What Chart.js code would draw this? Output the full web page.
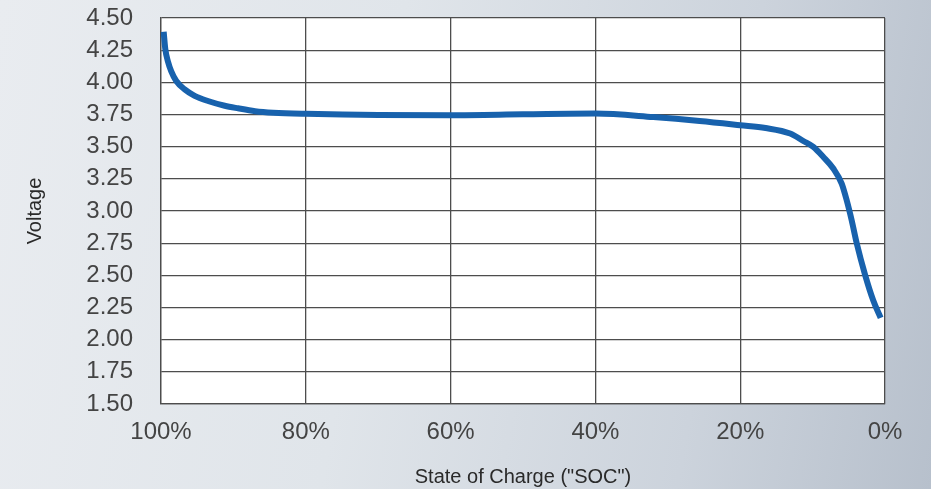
<!DOCTYPE html>
<html>
<head>
<meta charset="utf-8">
<script src="https://cdn.jsdelivr.net/npm/chart.js@4/dist/chart.umd.min.js"></script>
<style>
  html, body { margin: 0; padding: 0; width: 931px; height: 489px; overflow: hidden; }
  body { background: linear-gradient(100deg, #e9ecf0 0%, #e0e5ea 40%, #ccd3dc 75%, #b7c0cc 100%); }
  #wrap { position: absolute; left: 0; top: 0; width: 931px; height: 489px; }
</style>
</head>
<body>
<div id="wrap"><canvas id="c" width="931" height="489"></canvas></div>
<script>
// State of charge (%) and voltage
const soc = [99.63, 99.41, 99.03, 98.58, 97.89, 96.73, 95.35, 93.51, 91.2, 89.36, 87.0, 84.5, 80, 70, 60, 50, 40, 32, 25.6, 20, 16.5, 13.1, 11.28, 9.9, 8.52, 7.14, 5.98, 5.29, 4.6, 3.91, 2.76, 1.62, 0.6];
const voltage = [4.393, 4.26, 4.16, 4.085, 4.01, 3.945, 3.895, 3.855, 3.818, 3.798, 3.776, 3.764, 3.755, 3.746, 3.745, 3.751, 3.757, 3.73, 3.70, 3.667, 3.645, 3.602, 3.544, 3.498, 3.42, 3.33, 3.213, 3.083, 2.927, 2.75, 2.506, 2.304, 2.169];
const socTicks = [100, 80, 60, 40, 20, 0];
const voltTicks = [1.50, 1.75, 2.00, 2.25, 2.50, 2.75, 3.00, 3.25, 3.50, 3.75, 4.00, 4.25, 4.50];
const xTitle = 'State of Charge ("SOC")';
const yTitle = 'Voltage';

const points = soc.map((s, i) => ({ x: s, y: voltage[i] }));

const plotBg = {
  id: 'plotBg',
  beforeDraw(chart) {
    const { ctx, chartArea: a } = chart;
    ctx.save();
    ctx.fillStyle = '#ffffff';
    ctx.fillRect(a.left, a.top, a.right - a.left, a.bottom - a.top);
    ctx.restore();
  }
};

const FAM = 'Liberation Sans, Arial, sans-serif';
const tickFont = { family: FAM, size: 24 };
const titleFont = { family: FAM, size: 20 };
const gridColor = '#4d4d4d';

new Chart(document.getElementById('c'), {
  type: 'line',
  data: {
    datasets: [{
      data: points,
      borderColor: '#1862ad',
      borderWidth: 6,
      pointRadius: 0,
      fill: false,
      cubicInterpolationMode: 'monotone',
      borderCapStyle: 'butt',
      borderJoinStyle: 'round'
    }]
  },
  options: {
    responsive: false,
    animation: false,
    devicePixelRatio: 1,
    layout: { padding: { top: 18, right: 46, left: 0, bottom: 0 } },
    plugins: { legend: { display: false }, tooltip: { enabled: false } },
    scales: {
      x: {
        type: 'linear',
        reverse: true,
        min: 0, max: 100,
        afterBuildTicks(s) { s.ticks = socTicks.map(v => ({ value: v })); },
        afterFit(s) { s.height = 85; s.paddingLeft = 0; s.paddingRight = 0; },
        grid: { color: gridColor, lineWidth: 1.3, drawTicks: false },
        border: { color: gridColor, width: 1.3 },
        ticks: {
          font: tickFont, color: '#444444', padding: 14, maxRotation: 0, autoSkip: false,
          callback: v => v + '%'
        },
        title: { display: true, text: xTitle, font: titleFont, color: '#2a2a2a', padding: { top: 0, bottom: 0 } }
      },
      y: {
        min: 1.5, max: 4.5,
        afterBuildTicks(s) { s.ticks = voltTicks.map(v => ({ value: v })); },
        afterFit(s) { s.width = 161; s.paddingTop = 0; s.paddingBottom = 0; },
        grid: { color: gridColor, lineWidth: 1.3, drawTicks: false },
        border: { color: gridColor, width: 1.3 },
        ticks: {
          font: tickFont, color: '#444444', padding: 28, autoSkip: false,
          callback: v => Number(v).toFixed(2)
        },
        title: { display: true, text: yTitle, font: titleFont, color: '#2a2a2a', padding: { top: 23, bottom: 0 } }
      }
    }
  },
  plugins: [plotBg]
});
</script>
</body>
</html>
